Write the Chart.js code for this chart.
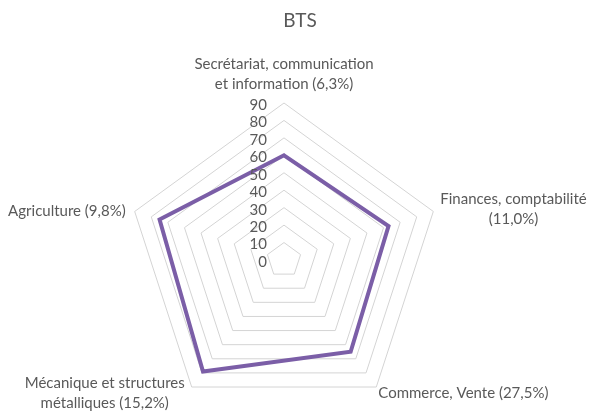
<!DOCTYPE html>
<html>
<head>
<meta charset="utf-8">
<script src="https://cdn.jsdelivr.net/npm/chart.js@4"></script>
<style>
  html, body { margin: 0; padding: 0; background: #fff; }
  #wrap { width: 590px; height: 417px; position: relative; }
</style>
</head>
<body>
<div id="wrap"><canvas id="chart" width="590" height="417"></canvas></div>
<script>
'use strict';

let chartTitle = 'BTS';
let categories = [
    ['Secrétariat, communication', 'et information (6,3%)'],
    ['Finances, comptabilité', '(11,0%)'],
    ['Commerce, Vente (27,5%)'],
    ['Mécanique et structures', 'métalliques (15,2%)'],
    ['Agriculture (9,8%)']
];
let seriesValues = [60, 63, 65, 79, 75];
let tickMin = 0;
let tickMax = 90;
let tickStep = 10;

let textColor = '#595959';
let fontFamily = 'Lato, "Liberation Sans", sans-serif';

// draws title, tick labels and category labels the way Excel places them
let labelsPlugin = {
    id: 'excelLabels',
    afterDraw(chart) {
        let ctx = chart.ctx;
        let scale = chart.scales.r;
        ctx.save();
        ctx.fillStyle = textColor;

        // title
        ctx.font = '19px ' + fontFamily;
        ctx.textAlign = 'center';
        ctx.textBaseline = 'middle';
        ctx.fillText(chartTitle, 300, 21);

        // tick labels, left of the vertical axis
        ctx.font = '15px ' + fontFamily;
        ctx.textAlign = 'right';
        scale.ticks.forEach(function (t) {
            let y = scale.yCenter - scale.getDistanceFromCenterForValue(t.value) + 2;
            ctx.fillText(String(t.value), scale.xCenter - 17, y);
        });

        // category labels
        let lineH = 20;
        categories.forEach(function (lines, i) {
            let p = scale.getPointPosition(i, scale.drawingArea);
            let c = Math.cos(p.angle);
            let s = Math.sin(p.angle);
            let w = Math.max.apply(null, lines.map(function (l) { return ctx.measureText(l).width; }));
            let h = lines.length * lineH;
            let cx, cy;
            if (Math.abs(c) < 0.1) {
                cx = p.x;
                cy = p.y - 9 - h / 2;
            } else if (c > 0) {
                cx = p.x + (s > 0.5 ? 2 : 7) + w / 2;
                cy = p.y + (s > 0.5 ? 6 : -2);
            } else {
                cx = p.x - (s > 0.5 ? 7 : 9) - w / 2;
                cy = p.y + (s > 0.5 ? 6 : 0);
            }
            ctx.textAlign = 'center';
            lines.forEach(function (l, k) {
                ctx.fillText(l, cx, cy - h / 2 + lineH / 2 + k * lineH);
            });
        });
        ctx.restore();
    }
};

function renderChart() {
    let canvasElem = document.getElementById('chart');
    new Chart(canvasElem, {
        type: 'radar',
        data: {
            labels: categories,
            datasets: [{
                label: chartTitle,
                data: seriesValues,
                fill: false,
                borderColor: '#7b5ea7',
                borderWidth: 4,
                pointRadius: 0,
                pointHoverRadius: 0,
                tension: 0
            }]
        },
        options: {
            responsive: false,
            animation: false,
            layout: {
                padding: { left: 125, right: 147, top: 103, bottom: -4 }
            },
            plugins: {
                legend: { display: false },
                title: { display: false },
                tooltip: { enabled: false }
            },
            scales: {
                r: {
                    min: tickMin,
                    max: tickMax,
                    ticks: { stepSize: tickStep, display: false },
                    grid: { color: '#d4d4d4', lineWidth: 1 },
                    angleLines: { display: false },
                    pointLabels: { display: false }
                }
            }
        },
        plugins: [labelsPlugin]
    });
}

renderChart();
</script>
</body>
</html>
